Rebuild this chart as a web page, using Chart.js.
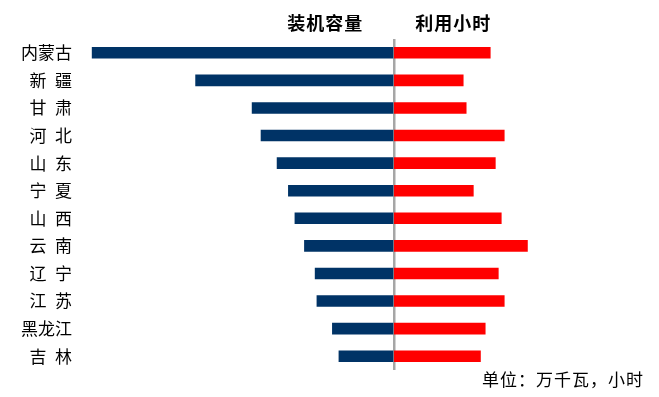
<!DOCTYPE html>
<html lang="zh">
<head>
<meta charset="UTF-8">
<title>装机容量与利用小时</title>
<style>
  body { margin: 0; background: #ffffff; }
  #wrap { position: relative; width: 659px; height: 397px; }
</style>
</head>
<body>
<div id="wrap"><canvas id="grafico"></canvas></div>

<script src="https://cdn.jsdelivr.net/npm/chart.js"></script>
<script>
  // dados
  const provincias = ['内蒙古', '新\u2002疆', '甘\u2002肃', '河\u2002北', '山\u2002东', '宁\u2002夏',
                      '山\u2002西', '云\u2002南', '辽\u2002宁', '江\u2002苏', '黑龙江', '吉\u2002林'];
  const capacidade = [2540, 1670, 1195, 1120, 985, 890, 835, 755, 665, 650, 520, 465]; // 万千瓦
  const horas = [1615, 1160, 1210, 1850, 1700, 1330, 1800, 2240, 1750, 1850, 1530, 1450]; // 小时
  const tituloEsq = '装机容量';
  const tituloDir = '利用小时';
  const unidade = '单位：万千瓦，小时';

  const fonte = '"Noto Sans CJK SC", "Noto Sans", sans-serif';

  // titulos e unidade
  const textos = {
    id: 'textos',
    afterDraw(chart) {
      const ctx = chart.ctx;
      const cx = chart.scales.xL.getPixelForValue(0);
      ctx.save();
      ctx.fillStyle = '#000';
      ctx.textBaseline = 'middle';
      ctx.font = 'bold 18px ' + fonte;
      ctx.letterSpacing = '1px';
      ctx.textAlign = 'left';
      ctx.fillText(tituloEsq, cx - 107, 23);
      ctx.fillText(tituloDir, cx + 21, 23);
      ctx.font = '17px ' + fonte;
      ctx.letterSpacing = '1px';
      ctx.fillText(unidade, 482, 380);
      ctx.restore();
    }
  };

  new Chart(document.getElementById('grafico'), {
    type: 'bar',
    data: {
      labels: provincias,
      datasets: [
        {
          label: tituloEsq,
          data: capacidade.map(v => -v),
          xAxisID: 'xL',
          backgroundColor: '#003366',
          barThickness: 11,
          grouped: false
        },
        {
          label: tituloDir,
          data: horas,
          xAxisID: 'xR',
          backgroundColor: '#ff0000',
          barThickness: 11,
          grouped: false
        }
      ]
    },
    options: {
      indexAxis: 'y',
      responsive: true,
      maintainAspectRatio: false,
      animation: false,
      layout: { padding: { top: 39, bottom: 27, left: 0, right: 15 } },
      plugins: {
        legend: { display: false },
        tooltip: { enabled: false }
      },
      scales: {
        y: {
          position: 'left',
          grid: { display: false, drawTicks: false },
          border: { display: false },
          ticks: {
            padding: 13,
            color: '#000',
            font: { family: fonte, size: 17 }
          },
          afterFit(scale) { scale.width = 85; }
        },
        xL: {
          position: 'bottom',
          min: -2600,
          max: 2100,
          z: 1,
          ticks: { display: false },
          afterBuildTicks(scale) { scale.ticks = [{ value: 0 }]; },
          border: { display: false },
          grid: {
            drawTicks: false,
            lineWidth: 2.5,
            color: '#a6a6a6'
          }
        },
        xR: {
          display: false,
          min: -5200,
          max: 4200
        }
      }
    },
    plugins: [textos]
  });
</script>
</body>
</html>
